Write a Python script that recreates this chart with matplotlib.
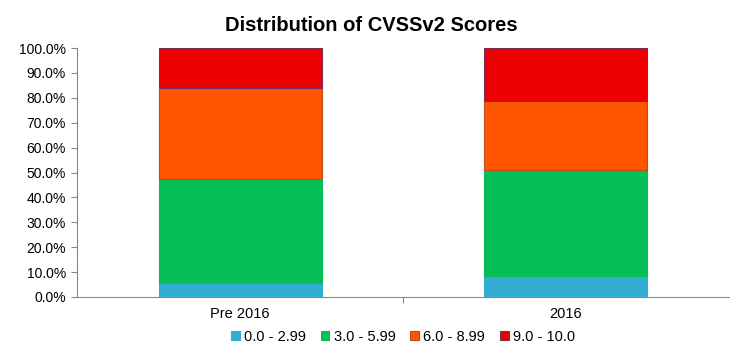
import matplotlib.pyplot as plt
import numpy as np
from matplotlib.ticker import PercentFormatter

plt.rcParams['font.family'] = ['Liberation Sans', 'DejaVu Sans']

categories = ['Pre 2016', '2016']
ranges = ['0.0 - 2.99', '3.0 - 5.99', '6.0 - 8.99', '9.0 - 10.0']
low = [5.6, 8.4]
medium = [41.8, 42.6]
high = [36.5, 27.7]
critical = [16.1, 21.3]
colors = ['#33AED2', '#05BE57', '#FF5500', '#EE0000']
edges = ['#33AED2', '#05BE57', '#C04A1A', '#7A2F5A']

fig = plt.figure(figsize=(7.43, 3.53), dpi=100)
ax = fig.add_axes([77 / 743, 56 / 353, 652 / 743, 249 / 353])

x = np.arange(len(categories))
bottom = np.zeros(len(categories))
for vals, lab, c, e in zip([low, medium, high, critical], ranges, colors, edges):
    ax.bar(x, vals, 0.5, bottom=bottom, color=c, edgecolor=e, linewidth=0.8, label=lab)
    bottom += np.array(vals)

ax.set_xlim(-0.5, 1.5)
ax.set_ylim(0, 100)
ax.set_yticks(np.arange(0, 101, 10))
ax.yaxis.set_major_formatter(PercentFormatter(decimals=1))
ax.set_xticks([0.5])
ax.set_xticklabels([''])
ax.tick_params(axis='x', length=4, color='#888888')
ax.tick_params(axis='y', length=4, color='#888888', labelsize=10, pad=4)
for i, cat in enumerate(categories):
    ax.text(i, -4, cat, ha='center', va='top', fontsize=10.5)

for s in ['top', 'right']:
    ax.spines[s].set_visible(False)
ax.spines['left'].set_color('#888888')
ax.spines['bottom'].set_color('#888888')

fig.suptitle('Distribution of CVSSv2 Scores', y=0.955, fontsize=14.5, fontweight='bold')
ax.legend(loc='center', bbox_to_anchor=(0.5, -0.16), ncol=4, frameon=False,
          fontsize=10.5, handlelength=0.6, handleheight=0.6, handletextpad=0.3,
          columnspacing=1.0)

plt.savefig('out.png', dpi=100)
